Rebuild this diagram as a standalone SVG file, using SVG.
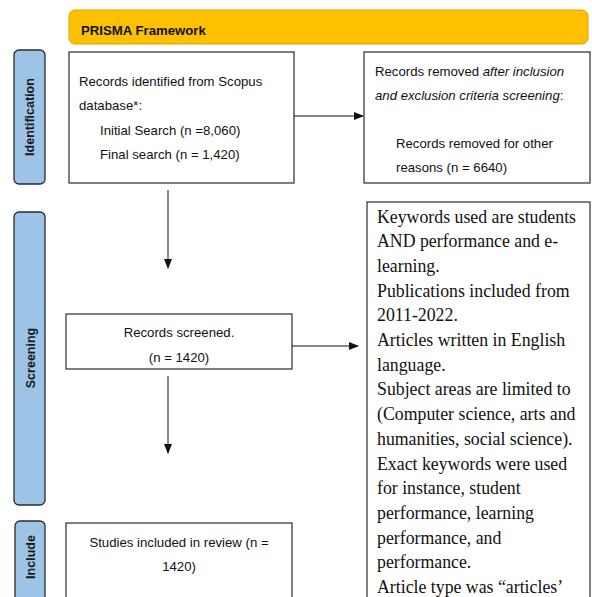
<svg xmlns="http://www.w3.org/2000/svg" width="592" height="597" viewBox="0 0 592 597">
<style>
.box{fill:#fff;stroke:#2b2b2b;stroke-width:1.2}
.side{fill:#9dc3e6;stroke:#2b2b2b;stroke-width:1.3}
.t{font-family:"Liberation Sans",Arial,sans-serif;font-size:13.2px;fill:#111}
.vt{font-family:"Liberation Sans",Arial,sans-serif;font-size:12.5px;font-weight:bold;fill:#1a1a1a;text-anchor:middle}
.tr{font-family:"Liberation Serif","Times New Roman",serif;font-size:17.8px;fill:#111}
.c{stroke:#111;stroke-width:1;fill:none}
</style>
<defs>
<marker id="ah" markerWidth="10" markerHeight="8" refX="9" refY="4" orient="auto" markerUnits="userSpaceOnUse">
<path d="M0,0 L10,4 L0,8 Z" fill="#111"/>
</marker>
</defs>
<g id="header">
<rect x="69" y="10" width="519" height="34" rx="6" fill="#ffc000" stroke="#d9a300" stroke-width="1"/>
<text x="81" y="35" class="t" font-weight="bold" font-size="13.8">PRISMA Framework</text>
</g>
<g id="identification">
<rect class="side" x="14" y="50" width="31" height="134" rx="5"/>
<text class="vt" transform="translate(34,117) rotate(-90)">Identification</text>
</g>
<g id="screening">
<rect class="side" x="14" y="212" width="31" height="293" rx="5"/>
<text class="vt" transform="translate(34.5,358) rotate(-90)">Screening</text>
</g>
<g id="include">
<rect class="side" x="15" y="521" width="30" height="90" rx="5"/>
<text class="vt" transform="translate(34.5,557) rotate(-90)">Include</text>
</g>
<g id="records-identified">
<rect class="box" x="69" y="52" width="225" height="131"/>
<text class="t" x="79" y="86">Records identified from Scopus</text>
<text class="t" x="79" y="110">database*:</text>
<text class="t" x="100" y="135">Initial Search (n =8,060)</text>
<text class="t" x="100" y="159">Final search (n = 1,420)</text>
</g>
<g id="records-removed">
<rect class="box" x="364" y="52" width="226" height="131"/>
<text class="t" x="375" y="76">Records removed <tspan font-style="italic">after inclusion</tspan></text>
<text class="t" x="375" y="100"><tspan font-style="italic">and exclusion criteria screening</tspan>:</text>
<text class="t" x="396" y="148">Records removed for other</text>
<text class="t" x="396" y="172">reasons (n = 6640)</text>
</g>
<g id="records-screened">
<rect class="box" x="66" y="314" width="226" height="55"/>
<text class="t" x="179" y="337" text-anchor="middle">Records screened.</text>
<text class="t" x="179" y="362" text-anchor="middle">(n = 1420)</text>
</g>
<g id="criteria">
<rect class="box" x="367" y="202" width="223" height="410"/>
<text class="tr" x="377" y="222.5">Keywords used are students</text>
<text class="tr" x="377" y="247.2">AND performance and e-</text>
<text class="tr" x="377" y="271.9">learning.</text>
<text class="tr" x="377" y="296.6">Publications included from</text>
<text class="tr" x="377" y="321.3">2011-2022.</text>
<text class="tr" x="377" y="346">Articles written in English</text>
<text class="tr" x="377" y="370.7">language.</text>
<text class="tr" x="377" y="395.4">Subject areas are limited to</text>
<text class="tr" x="377" y="420.1">(Computer science, arts and</text>
<text class="tr" x="377" y="444.8">humanities, social science).</text>
<text class="tr" x="377" y="469.5">Exact keywords were used</text>
<text class="tr" x="377" y="494.2">for instance, student</text>
<text class="tr" x="377" y="518.9">performance, learning</text>
<text class="tr" x="377" y="543.6">performance, and</text>
<text class="tr" x="377" y="568.3">performance.</text>
<text class="tr" x="377" y="593">Article type was “articles’</text>
</g>
<g id="studies-included">
<rect class="box" x="66" y="523" width="226" height="90"/>
<text class="t" x="179" y="547" text-anchor="middle">Studies included in review (n =</text>
<text class="t" x="179" y="571" text-anchor="middle">1420)</text>
</g>
<g id="connectors">
<line class="c" x1="294" y1="116" x2="363" y2="116" marker-end="url(#ah)"/>
<line class="c" x1="168" y1="190" x2="168" y2="268" marker-end="url(#ah)"/>
<line class="c" x1="292" y1="346" x2="358" y2="346" marker-end="url(#ah)"/>
<line class="c" x1="168" y1="376" x2="168" y2="453" marker-end="url(#ah)"/>
</g>
</svg>
